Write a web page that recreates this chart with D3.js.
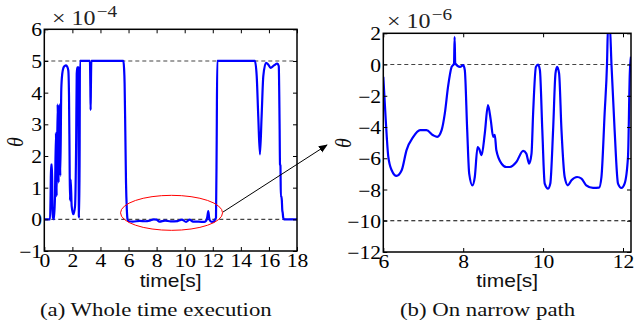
<!DOCTYPE html>
<html><head><meta charset="utf-8">
<script src="https://cdn.jsdelivr.net/npm/d3@7"></script>
<style>body{margin:0;background:#fff}svg{display:block}</style>
</head><body>
<svg id="c" width="634" height="327"></svg>
<script>
// ---- data (theta in units of 1e-4 for the left panel, 1e-6 for the right panel) ----
const leftTime = [0, 0.41, 0.45, 0.48, 0.55, 0.58, 0.62, 0.69, 0.76, 0.83, 0.88, 0.95, 1.02, 1.07, 1.14, 1.21, 1.28, 1.36, 1.45, 1.55, 1.63, 1.71, 1.76, 1.80, 1.83, 1.88, 1.95, 2.07, 2.19, 2.27, 2.31, 2.35, 2.42, 2.46, 2.50, 2.54, 3.25, 3.28, 3.30, 3.32, 3.35, 5.63, 5.68, 5.72, 5.77, 5.82, 5.88, 5.93, 6.0, 6.3, 6.8, 7.2, 7.5, 7.8, 8.0, 8.2, 8.6, 9.0, 9.5, 9.8, 10.1, 10.35, 10.6, 11.0, 11.4, 11.55, 11.62, 11.68, 11.74, 11.8, 11.95, 12.1, 12.17, 12.23, 12.28, 12.32, 15.0, 15.13, 15.24, 15.36, 15.48, 15.6, 15.79, 15.95, 16.12, 16.36, 16.6, 16.7, 16.76, 16.79, 16.82, 16.85, 16.88, 16.92, 16.95, 16.98, 17.02, 17.07, 18];
const leftTheta = [0, 0, 0.8, 1.73, 1.73, 0.4, 0.05, 0, 0.73, 2.73, 0.73, 3.63, 1.16, 3.63, 1.37, 4.1, 4.6, 4.78, 4.84, 4.86, 4.82, 4.7, 3.9, 2.0, 0.6, 1.26, 0.42, 0.16, 0.42, 2.5, 4.6, 4.8, 4.8, 0.1, 0.05, 5, 5, 4.2, 3.45, 4.2, 5, 5, 4.78, 4.3, 2.8, 1.16, 0.3, 0, -0.06, -0.07, -0.05, -0.06, -0.04, 0.0, -0.01, -0.07, -0.04, -0.065, -0.055, -0.01, -0.08, -0.01, -0.075, -0.075, -0.08, -0.03, 0.1, 0.26, 0.05, -0.04, -0.08, -0.06, 0, 0.05, 2.5, 5, 5, 4.52, 3.26, 2.05, 3.26, 4.52, 4.94, 4.89, 4.78, 4.86, 4.92, 4.84, 3.0, 1.73, 1.7, 0.7, 0.73, 0.6, 0.3, 0.21, 0.05, 0, 0];

const rightTime = [6.0, 6.06, 6.125, 6.21, 6.33, 6.46, 6.58, 6.75, 6.92, 7.08, 7.25, 7.35, 7.46, 7.54, 7.62, 7.71, 7.77, 7.785, 7.80, 7.92, 8.0, 8.04, 8.1, 8.15, 8.23, 8.29, 8.36, 8.4, 8.46, 8.54, 8.62, 8.69, 8.75, 8.79, 8.83, 8.96, 9.08, 9.17, 9.33, 9.5, 9.58, 9.65, 9.71, 9.75, 9.82, 9.875, 9.92, 9.98, 10.04, 10.125, 10.18, 10.25, 10.31, 10.35, 10.4, 10.46, 10.54, 10.62, 10.71, 10.85, 10.96, 11.08, 11.25, 11.4, 11.46, 11.54, 11.6, 11.625, 11.67, 11.71, 11.79, 11.875, 11.96, 12.04, 12.125, 12.17, 12.2];
const rightTheta = [-0.79, -3.5, -5.9, -6.77, -7.13, -6.77, -5.49, -4.63, -4.2, -4.2, -4.53, -4.63, -4.2, -3.13, -1.43, -0.15, 0.05, 1.78, 0.07, -0.15, -0.04, -0.36, -4.2, -6.98, -7.73, -7.2, -5.28, -5.4, -5.8, -4.42, -2.6, -3.56, -4.63, -4.5, -5.49, -6.34, -6.56, -6.56, -6.24, -5.53, -5.7, -6.34, -5.7, -3.13, -0.15, 0, -0.36, -4.2, -7.62, -7.94, -7.62, -4.2, -0.57, -0.15, -0.57, -4.2, -7.2, -7.73, -7.41, -7.2, -7.3, -7.73, -7.9, -7.88, -7.2, -3.13, 0.07, 2.5, 2.5, 0.07, -4.2, -7.62, -7.9, -7.62, -5.9, -0.57, 0.5];

const leftXTicks = [0, 2, 4, 6, 8, 10, 12, 14, 16, 18];
const leftYTicks = [-1, 0, 1, 2, 3, 4, 5, 6];
const rightXTicks = [6, 8, 10, 12];
const rightYTicks = [-12, -10, -8, -6, -4, -2, 0, 2];
const leftRefLines = [5, 0];
const rightRefLines = [0, -10];
const leftExponent = "−4";
const rightExponent = "−6";
const captions = ["(a) Whole time execution", "(b) On narrow path"];
const xLabel = "time[s]";
const yLabel = "θ";

// ---- drawing ----
const SX = 1.2; // horizontal stretch of the original figure's text
const svg = d3.select("#c");
const serif = "'Liberation Serif', 'Times New Roman', serif";
const sans = "'Liberation Sans', Arial, sans-serif";

function panel(cfg) {
  const x = d3.scaleLinear().domain(cfg.xDomain).range([cfg.left, cfg.right]);
  const y = d3.scaleLinear().domain(cfg.yDomain).range([cfg.bottom, cfg.top]);
  const g = svg.append("g");
  const id = "clip" + cfg.name;
  svg.append("defs").append("clipPath").attr("id", id)
    .append("rect").attr("x", cfg.left).attr("y", cfg.top)
    .attr("width", cfg.right - cfg.left).attr("height", cfg.bottom - cfg.top);

  // reference dashed lines
  cfg.refLines.forEach((v, i) => {
    g.append("line").attr("x1", cfg.left).attr("x2", cfg.right)
      .attr("y1", y(v)).attr("y2", y(v))
      .attr("stroke", cfg.refColors[i]).attr("stroke-width", 1.1)
      .attr("stroke-dasharray", "4,3");
  });

  // data line
  const line = d3.line().x((d, i) => x(cfg.t[i])).y((d, i) => y(cfg.v[i]))
    .curve(d3.curveMonotoneX);
  g.append("path").datum(cfg.v).attr("d", line)
    .attr("clip-path", `url(#${id})`)
    .attr("fill", "none").attr("stroke", "#0000ff").attr("stroke-width", 2.2)
    .attr("stroke-linejoin", "round");

  // axes (ticks inward)
  const styleAxis = (sel, labels) => {
    sel.select(".domain").remove();
    sel.selectAll(".tick line").attr("stroke", "#000").attr("stroke-width", 1);
    sel.selectAll("text").attr("font-family", serif).attr("font-size", 18)
      .attr("fill", "#000");
    if (!labels) sel.selectAll("text").remove();
  };
  const fmt = d => (d < 0 ? "−" + Math.abs(d) : String(d));
  const bx = g.append("g").attr("transform", `translate(0,${cfg.bottom})`)
    .call(d3.axisBottom(x).tickValues(cfg.xTicks).tickSize(-4).tickPadding(3).tickFormat(fmt));
  styleAxis(bx, true);
  bx.selectAll("text").attr("transform", `scale(${SX},1)`);
  const tx = g.append("g").attr("transform", `translate(0,${cfg.top})`)
    .call(d3.axisTop(x).tickValues(cfg.xTicks).tickSize(-4).tickFormat(""));
  styleAxis(tx, false);
  const ly = g.append("g").attr("transform", `translate(${cfg.left},0)`)
    .call(d3.axisLeft(y).tickValues(cfg.yTicks).tickSize(-4).tickPadding(1.8).tickFormat(fmt));
  styleAxis(ly, true);
  ly.selectAll("text").attr("transform", `scale(${SX},1)`).attr("dy", "0.36em");
  const ry = g.append("g").attr("transform", `translate(${cfg.right},0)`)
    .call(d3.axisRight(y).tickValues(cfg.yTicks).tickSize(-4).tickFormat(""));
  styleAxis(ry, false);

  // frame
  g.append("rect").attr("x", cfg.left).attr("y", cfg.top)
    .attr("width", cfg.right - cfg.left).attr("height", cfg.bottom - cfg.top)
    .attr("fill", "none").attr("stroke", "#000").attr("stroke-width", 1.5);

  // exponent label
  const ex = g.append("text")
    .attr("transform", `translate(${cfg.expX},${cfg.expY}) scale(${SX},1)`)
    .attr("font-family", serif).attr("font-size", 20).attr("fill", "#222");
  ex.append("tspan").text("× 10");
  ex.append("tspan").attr("dy", -8).attr("font-size", 16).attr("dx", 1).text(cfg.exponent);

  // x label
  g.append("text")
    .attr("transform", `translate(${(cfg.left + cfg.right) / 2},${cfg.xLabY}) scale(${SX},1)`)
    .attr("text-anchor", "middle").attr("font-family", sans).attr("font-size", 17.5)
    .attr("fill", "#111").text(xLabel);

  // y label
  g.append("text")
    .attr("transform", `translate(${cfg.yLabX},${cfg.yLabY}) rotate(-90) scale(1,${SX})`)
    .attr("text-anchor", "middle").attr("font-family", serif).attr("font-style", "italic")
    .attr("font-size", 20).attr("fill", "#111").text(yLabel);

  // caption
  g.append("text")
    .attr("transform", `translate(${cfg.capX},316) scale(${SX},1)`)
    .attr("font-family", serif).attr("font-size", 19).attr("fill", "#111")
    .text(cfg.caption);

  return { x, y };
}

const L = panel({
  name: "L", t: leftTime, v: leftTheta, xDomain: [0, 18], yDomain: [-1, 6],
  left: 44.3, right: 297, top: 29.3, bottom: 251,
  xTicks: leftXTicks, yTicks: leftYTicks, refLines: leftRefLines, refColors: ["#444", "#444"],
  exponent: leftExponent, expX: 52, expY: 25, xLabY: 287, yLabX: 23, yLabY: 142,
  caption: captions[0], capX: 40
});
const R = panel({
  name: "R", t: rightTime, v: rightTheta, xDomain: [6, 12.2], yDomain: [-12, 2],
  left: 383.3, right: 631, top: 33.3, bottom: 252,
  xTicks: rightXTicks, yTicks: rightYTicks, refLines: rightRefLines, refColors: ["#444", "#000"],
  exponent: rightExponent, expX: 387, expY: 28, xLabY: 287, yLabX: 351, yLabY: 143,
  caption: captions[1], capX: 400
});

// zoom annotation: ellipse around the narrow-path segment and arrow to panel (b)
const ex0 = L.x(rightTime[0]), ex1 = L.x(rightTime[rightTime.length - 1]);
svg.append("ellipse")
  .attr("cx", (ex0 + ex1) / 2 - 0.5).attr("cy", L.y(0) - 6.5)
  .attr("rx", 51).attr("ry", 17.5)
  .attr("fill", "none").attr("stroke", "#ff0000").attr("stroke-width", 1);
const defs = svg.append("defs");
defs.append("marker").attr("id", "arr").attr("viewBox", "0 0 10 10")
  .attr("refX", 9).attr("refY", 5).attr("markerWidth", 9).attr("markerHeight", 9)
  .attr("markerUnits", "userSpaceOnUse").attr("orient", "auto")
  .append("path").attr("d", "M0,1 L10,5 L0,9 Z").attr("fill", "#000");
svg.append("line")
  .attr("x1", 223).attr("y1", 212).attr("x2", 327).attr("y2", 145)
  .attr("stroke", "#000").attr("stroke-width", 1).attr("marker-end", "url(#arr)");
</script>
</body></html>
